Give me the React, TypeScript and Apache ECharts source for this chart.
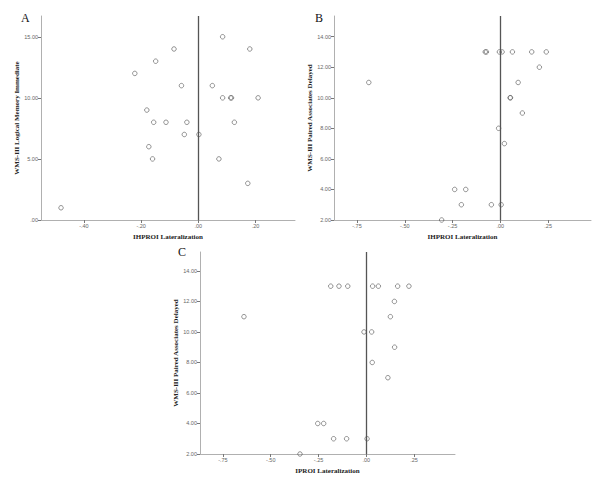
import React, { useEffect, useRef } from "react";
import * as echarts from "echarts";

// Panel A: IHPROI Lateralization vs WMS-III Logical Memory Immediate
const aX = [-0.48, -0.222, -0.18, -0.173, -0.16, -0.156, -0.149, -0.113, -0.085, -0.059, -0.049, -0.04, 0.002, 0.049, 0.072, 0.085, 0.085, 0.113, 0.116, 0.126, 0.173, 0.18, 0.209];
const aY = [1, 12, 9, 6, 5, 8, 13, 8, 14, 11, 7, 8, 7, 11, 5, 15, 10, 10, 10, 8, 3, 14, 10];

// Panel B: IHPROI Lateralization vs WMS-III Paired Associates Delayed
const bX = [-0.688, -0.307, -0.239, -0.204, -0.181, -0.079, -0.073, -0.047, -0.009, -0.005, 0.004, 0.009, 0.021, 0.051, 0.053, 0.063, 0.093, 0.115, 0.164, 0.204, 0.24];
const bY = [11, 2, 4, 3, 4, 13, 13, 3, 8, 13, 3, 13, 7, 10, 10, 13, 11, 9, 13, 12, 13];

// Panel C: IPROI Lateralization vs WMS-III Paired Associates Delayed
const cX = [-0.64, -0.347, -0.254, -0.223, -0.186, -0.171, -0.143, -0.103, -0.097, -0.012, 0.004, 0.028, 0.031, 0.033, 0.063, 0.113, 0.126, 0.147, 0.148, 0.164, 0.223];
const cY = [11, 2, 4, 4, 13, 3, 13, 3, 13, 10, 3, 10, 8, 13, 13, 7, 11, 12, 9, 13, 13];

const aXTicks = [-0.4, -0.2, 0, 0.2];
const aYTicks = [0, 5, 10, 15];
const bcXTicks = [-0.75, -0.5, -0.25, 0, 0.25];
const bcYTicks = [2, 4, 6, 8, 10, 12, 14];

const fmtX = (v: number) => {
  const s = Math.abs(v).toFixed(2).replace(/^0/, "");
  return (v < -1e-9 ? "-" : "") + s;
};
const fmtY = (v: number) => (v === 0 ? ".00" : v.toFixed(2));

const axisColor = "#b0b0b0";
const labelColor = "#666";
const titleStyle = {
  fontFamily: "Liberation Serif",
  fontSize: 7,
  fontWeight: "bold" as const,
  color: "#222",
};

function xAxis(idx: number, min: number, max: number, ticks: number[], name: string) {
  return {
    type: "value",
    gridIndex: idx,
    min,
    max,
    name,
    nameLocation: "middle",
    nameGap: 13,
    nameTextStyle: titleStyle,
    splitLine: { show: false },
    axisLine: { show: true, onZero: false, lineStyle: { color: axisColor, width: 1 } },
    axisTick: { show: true, length: 3, customValues: ticks, lineStyle: { color: "#777" } },
    axisLabel: {
      customValues: ticks,
      formatter: fmtX,
      fontFamily: "Liberation Sans",
      fontSize: 5.5,
      color: labelColor,
      margin: 3,
    },
  };
}

function yAxis(idx: number, min: number, max: number, ticks: number[], name: string, gap: number) {
  return {
    type: "value",
    gridIndex: idx,
    min,
    max,
    name,
    nameLocation: "middle",
    nameGap: gap,
    nameRotate: 90,
    nameTextStyle: titleStyle,
    splitLine: { show: false },
    axisLine: { show: true, onZero: false, lineStyle: { color: axisColor, width: 1 } },
    axisTick: { show: true, length: 3, customValues: ticks, lineStyle: { color: "#777" } },
    axisLabel: {
      customValues: ticks,
      formatter: fmtY,
      fontFamily: "Liberation Sans",
      fontSize: 5.5,
      color: labelColor,
      margin: 3,
    },
  };
}

function scatter(idx: number, xs: number[], ys: number[]) {
  return {
    type: "scatter",
    xAxisIndex: idx,
    yAxisIndex: idx,
    data: xs.map((x, i) => [x, ys[i]]),
    symbol: "circle",
    symbolSize: 4.5,
    itemStyle: { color: "rgba(255,255,255,0)", borderColor: "#555", borderWidth: 0.8 },
    markLine: {
      silent: true,
      symbol: "none",
      label: { show: false },
      lineStyle: { color: "#555", width: 1.3, type: "solid" },
      data: [{ xAxis: 0 }],
    },
  };
}

export default function App() {
  const ref = useRef<HTMLDivElement>(null);
  useEffect(() => {
    if (!ref.current) return;
    const chart = echarts.init(ref.current, null, { renderer: "svg" });
    chart.setOption({
      animation: false,
      backgroundColor: "#ffffff",
      grid: [
        { left: 41, top: 16, width: 254, height: 204 },
        { left: 334, top: 16, width: 257, height: 204 },
        { left: 200, top: 252, width: 255, height: 202 },
      ],
      xAxis: [
        xAxis(0, -0.55, 0.338, aXTicks, "IHPROI Lateralization"),
        xAxis(1, -0.87, 0.474, bcXTicks, "IHPROI Lateralization"),
        xAxis(2, -0.87, 0.464, bcXTicks, "IPROI Lateralization"),
      ],
      yAxis: [
        yAxis(0, 0, 16.7, aYTicks, "WMS-III Logical Memory Immediate", 20),
        yAxis(1, 2, 15.35, bcYTicks, "WMS-III Paired Associates Delayed", 18),
        yAxis(2, 2, 15.24, bcYTicks, "WMS-III Paired Associates Delayed", 20),
      ],
      series: [scatter(0, aX, aY), scatter(1, bX, bY), scatter(2, cX, cY)],
      graphic: [
        { type: "text", left: 21, top: 12, style: { text: "A", font: "12px 'Liberation Serif'", fill: "#111" } },
        { type: "text", left: 315, top: 12, style: { text: "B", font: "12px 'Liberation Serif'", fill: "#111" } },
        { type: "text", left: 178, top: 246, style: { text: "C", font: "12px 'Liberation Serif'", fill: "#111" } },
      ],
    });
    return () => chart.dispose();
  }, []);
  return (
    <div
      ref={ref}
      style={{ position: "absolute", left: 0, top: 0, width: 600, height: 482 }}
    />
  );
}
